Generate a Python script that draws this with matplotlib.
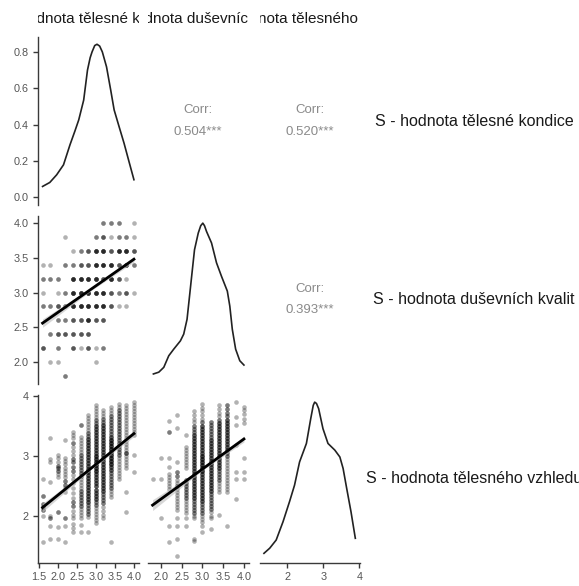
import matplotlib.pyplot as plt
from matplotlib.transforms import Bbox, TransformedBbox
import numpy as np

plt.rcParams['font.family'] = ['Liberation Sans', 'DejaVu Sans']

labels = ['S - hodnota tělesné kondice', 'S - hodnota duševních kvalit',
          'S - hodnota tělesného vzhledu']

# diagonal densities (x, density)
dens_kond_x = [1.6, 1.79, 1.97, 2.15, 2.32, 2.45, 2.55, 2.68, 2.78, 2.85, 2.90,
               2.97, 3.03, 3.10, 3.17, 3.28, 3.39, 3.48, 3.61, 3.74, 3.87, 4.0]
dens_kond_y = [0.060, 0.082, 0.124, 0.179, 0.289, 0.365, 0.426, 0.535, 0.700,
               0.768, 0.800, 0.835, 0.842, 0.832, 0.800, 0.718, 0.590, 0.481,
               0.389, 0.298, 0.197, 0.097]

dens_dus_x = [1.82, 1.95, 2.07, 2.19, 2.31, 2.47, 2.55, 2.63, 2.69, 2.75, 2.81,
              2.90, 2.96, 3.01, 3.05, 3.10, 3.22, 3.34, 3.46, 3.60, 3.66, 3.72,
              3.80, 3.90, 4.0]
dens_dus_y = [0.015, 0.029, 0.067, 0.158, 0.210, 0.275, 0.328, 0.444, 0.626,
              0.809, 0.991, 1.122, 1.180, 1.200, 1.180, 1.134, 1.044, 0.888,
              0.782, 0.666, 0.548, 0.366, 0.210, 0.119, 0.085]

dens_vz_x = [1.35, 1.51, 1.69, 1.88, 2.06, 2.20, 2.34, 2.53, 2.65, 2.72, 2.76,
             2.81, 2.87, 2.99, 3.13, 3.32, 3.46, 3.55, 3.65, 3.77, 3.89]
dens_vz_y = [0.008, 0.035, 0.078, 0.174, 0.279, 0.366, 0.488, 0.585, 0.715,
             0.785, 0.802, 0.795, 0.768, 0.663, 0.585, 0.550, 0.514, 0.454,
             0.349, 0.226, 0.087]

# kondice vs dusevni: grid points and number of respondents at each
kd_x = [3.2, 3.4, 3.6, 4.0,
        2.2, 3.0, 3.2, 3.4, 3.6, 3.8, 4.0,
        2.4, 2.6, 2.8, 3.0, 3.2, 3.4, 3.6, 3.8, 4.0,
        1.6, 1.8, 2.2, 2.4, 2.6, 2.8, 3.0, 3.2, 3.4, 3.6, 3.8, 4.0,
        1.6, 1.8, 2.0, 2.4, 2.6, 2.8, 3.0, 3.2, 3.4, 3.6, 3.8,
        1.6, 2.0, 2.2, 2.4, 2.6, 2.8, 3.0, 3.2, 3.4, 3.6, 3.8, 4.0,
        1.6, 1.8, 2.0, 2.2, 2.4, 2.6, 2.8, 3.0, 3.2, 3.4, 3.6, 3.8,
        2.0, 2.2, 2.4, 2.6, 2.8, 3.0, 3.2,
        1.8, 2.0, 2.2, 2.4, 2.6, 2.8,
        1.6, 2.0, 2.4, 2.6, 2.8, 3.0, 3.2,
        1.8, 2.0, 3.0,
        2.2]
kd_y = [4.0] * 4 + [3.8] * 7 + [3.6] * 9 + [3.4] * 12 + [3.2] * 11 + \
       [3.0] * 12 + [2.8] * 12 + [2.6] * 7 + [2.4] * 6 + [2.2] * 7 + \
       [2.0] * 3 + [1.8]
kd_n = [2, 2, 2, 1,
        1, 2, 3, 1, 2, 2, 1,
        1, 2, 3, 5, 5, 3, 5, 5, 3,
        1, 1, 2, 2, 3, 3, 5, 5, 5, 3, 5, 2,
        2, 2, 2, 5, 5, 5, 5, 3, 5, 3, 1,
        1, 1, 2, 5, 5, 5, 5, 5, 3, 2, 3, 1,
        2, 2, 3, 2, 5, 5, 5, 5, 5, 3, 1, 1,
        2, 2, 3, 3, 5, 3, 3,
        2, 3, 3, 3, 3, 3,
        3, 2, 3, 1, 3, 1, 2,
        1, 1, 1,
        2]

# kondice vs vzhled: per kondice column, vzhled values and respondent counts
kv_levels = [1.6, 1.8, 2.0, 2.2, 2.4, 2.6, 2.8, 3.0, 3.2, 3.4, 3.6, 3.8, 4.0]
kv_y = [
    [2.61, 2.33, 2.2, 2.15, 2.1, 2.0, 1.57],
    [3.29, 2.94, 2.89, 2.57, 2.0, 1.96, 1.84, 1.62],
    [3.02, 2.97, 2.9, 2.83, 2.79, 2.74, 2.69, 2.65, 2.07, 1.82, 1.62],
    [3.27, 2.97, 2.92, 2.86, 2.8, 2.75, 2.7, 2.64, 2.58, 2.52, 2.46, 2.4,
     1.96, 1.84, 1.56],
    [3.4, 3.34, 3.29, 3.22, 3.15, 3.08, 3.01, 2.95, 2.89, 2.82, 2.75, 2.68,
     2.61, 2.54, 2.46, 2.39, 2.3, 2.23, 2.16, 2.09, 2.02, 1.96, 1.87, 1.8, 1.73],
    [3.51, 3.32, 3.27, 3.22, 3.17, 3.12, 3.07, 3.02, 2.97, 2.92, 2.87, 2.82,
     2.77, 2.72, 2.67, 2.62, 2.57, 2.52, 2.47, 2.42, 2.37, 2.32, 2.27, 2.22,
     2.17, 2.12, 2.07, 2.02, 1.97, 1.85, 1.73],
    [3.68, 3.63, 3.58, 3.53, 3.48, 3.43, 3.38, 3.33, 3.28, 3.23, 3.18, 3.13,
     3.08, 3.03, 2.98, 2.93, 2.88, 2.83, 2.78, 2.73, 2.68, 2.63, 2.58, 2.53,
     2.48, 2.43, 2.38, 2.33, 2.28, 2.23, 2.18, 2.13, 2.08, 2.03, 1.98, 1.73],
    [3.84, 3.79, 3.74, 3.69, 3.64, 3.59, 3.54, 3.49, 3.44, 3.39, 3.34, 3.29,
     3.24, 3.19, 3.14, 3.09, 3.04, 2.99, 2.94, 2.89, 2.84, 2.79, 2.74, 2.69,
     2.64, 2.59, 2.54, 2.49, 2.44, 2.39, 2.34, 2.29, 2.24, 2.19, 2.14, 2.09,
     2.04, 1.99, 1.94, 1.89],
    [3.76, 3.71, 3.66, 3.61, 3.56, 3.51, 3.46, 3.41, 3.36, 3.31, 3.26, 3.21,
     3.16, 3.11, 3.06, 3.01, 2.96, 2.91, 2.86, 2.81, 2.76, 2.71, 2.66, 2.61,
     2.56, 2.51, 2.46, 2.41, 2.36, 2.31, 2.26, 2.21, 2.15, 2.08, 2.02, 1.96],
    [3.82, 3.77, 3.72, 3.67, 3.62, 3.57, 3.52, 3.47, 3.42, 3.37, 3.32, 3.27,
     3.22, 3.17, 3.12, 3.07, 3.02, 2.97, 2.92, 2.87, 2.82, 2.77, 2.72, 2.67,
     2.62, 2.57, 2.52, 2.47, 2.42, 2.37, 2.32, 1.57],
    [3.86, 3.81, 3.76, 3.71, 3.66, 3.61, 3.56, 3.51, 3.46, 3.41, 3.36, 3.31,
     3.26, 3.21, 3.16, 3.11, 3.06, 3.01, 2.96, 2.91, 2.86, 2.81, 2.76, 2.71,
     2.66, 2.62],
    [3.84, 3.79, 3.74, 3.69, 3.64, 3.59, 3.54, 3.49, 3.44, 3.39, 3.34, 3.29,
     3.24, 3.19, 3.14, 3.09, 3.04, 2.99, 2.94, 2.89, 2.84, 2.79, 2.4, 2.07],
    [3.9, 3.85, 3.8, 3.75, 3.7, 3.65, 3.6, 3.55, 3.5, 3.45, 3.4, 3.34, 3.01,
     2.73],
]
kv_n = [
    [1, 2, 2, 2, 2, 1, 1],
    [1, 1, 1, 1, 1, 2, 1, 1],
    [1, 1, 1, 2, 2, 2, 1, 1, 2, 1, 1],
    [1, 1, 1, 1, 1, 1, 1, 1, 2, 2, 1, 1, 2, 1, 1],
    [1, 1, 1, 2, 1, 1, 1, 2, 2, 2, 2, 1, 1, 1, 1, 1, 1, 2, 2, 1, 1, 1, 1, 1, 1],
    [2, 1, 1, 1, 1, 1, 1, 2, 2, 2, 2, 2, 2, 2, 2, 1, 1, 1, 1, 2, 2, 2, 2, 2,
     2, 1, 1, 1, 1, 1, 1],
    [1, 1, 1, 1, 1, 1, 2, 2, 3, 3, 3, 3, 3, 3, 3, 3, 3, 3, 3, 3, 3, 3, 3, 3,
     3, 3, 3, 3, 3, 3, 2, 2, 2, 2, 1, 1],
    [1, 1, 1, 1, 1, 2, 2, 3, 3, 3, 3, 3, 3, 3, 3, 3, 3, 4, 4, 4, 4, 4, 4, 3,
     3, 3, 3, 3, 3, 3, 3, 3, 2, 2, 1, 1, 1, 1, 1, 1],
    [1, 1, 1, 2, 2, 3, 3, 3, 3, 3, 3, 3, 3, 3, 3, 3, 3, 3, 3, 3, 3, 3, 3, 3,
     3, 3, 3, 3, 2, 2, 2, 2, 1, 1, 1, 1],
    [1, 1, 1, 2, 2, 2, 2, 2, 2, 2, 3, 4, 4, 4, 4, 4, 4, 4, 4, 4, 3, 3, 2, 2,
     2, 2, 2, 2, 1, 1, 1, 1],
    [1, 1, 2, 2, 2, 2, 2, 2, 2, 2, 2, 2, 2, 2, 2, 2, 2, 2, 1, 1, 1, 1, 1, 1,
     1, 1],
    [1, 1, 1, 1, 1, 1, 1, 1, 1, 1, 1, 1, 1, 1, 1, 1, 3, 1, 1, 1, 1, 1, 1, 1],
    [1, 1, 1, 1, 1, 1, 1, 1, 1, 1, 1, 1, 1, 1],
]

# dusevni vs vzhled: per dusevni column, vzhled values and respondent counts
dv_levels = [1.8, 2.0, 2.2, 2.4, 2.6, 2.8, 3.0, 3.2, 3.4, 3.6, 3.8, 4.0]
dv_y = [
    [2.61],
    [2.96, 2.61, 1.96],
    [3.58, 3.4, 2.96, 2.82, 2.7, 2.65, 2.6, 2.55, 2.5, 2.45, 1.84, 1.57],
    [3.68, 3.46, 2.9, 2.73, 2.66, 2.6, 2.55, 2.5, 2.45, 2.4, 2.35, 2.3, 2.25,
     2.2, 2.15, 2.1, 1.96, 1.84, 1.62, 1.34],
    [3.34, 3.15, 3.1, 3.05, 3.0, 2.95, 2.9, 2.85, 2.8, 2.6, 2.55, 2.5, 2.45,
     2.4, 2.35, 2.3, 2.25, 2.2, 2.15, 2.1, 2.05, 1.96, 1.84],
    [3.74, 3.68, 3.62, 3.56, 3.5, 3.45, 3.4, 3.35, 3.3, 3.25, 3.2, 3.15, 3.1,
     3.05, 3.0, 2.95, 2.9, 2.85, 2.8, 2.75, 2.7, 2.65, 2.6, 2.55, 2.5, 2.45,
     2.4, 2.35, 2.3, 2.25, 2.2, 2.15, 2.1, 2.05, 2.0, 1.96, 1.62, 1.58],
    [3.86, 3.8, 3.74, 3.68, 3.62, 3.56, 3.5, 3.45, 3.4, 3.35, 3.3, 3.25, 3.2,
     3.15, 3.1, 3.05, 3.0, 2.95, 2.9, 2.85, 2.8, 2.75, 2.7, 2.65, 2.6, 2.55,
     2.5, 2.45, 2.4, 2.35, 2.3, 2.25, 2.2, 2.15, 2.1, 2.05, 2.0, 1.95, 1.9,
     1.84, 1.73],
    [3.57, 3.52, 3.47, 3.42, 3.37, 3.32, 3.27, 3.22, 3.17, 3.12, 3.07, 3.02,
     2.97, 2.92, 2.87, 2.82, 2.77, 2.72, 2.67, 2.62, 2.57, 2.52, 2.47, 2.42,
     2.37, 2.32, 2.27, 2.22, 2.17, 2.12, 2.06, 2.0, 1.96, 1.79],
    [3.84, 3.78, 3.72, 3.66, 3.6, 3.55, 3.5, 3.45, 3.4, 3.35, 3.3, 3.25, 3.2,
     3.15, 3.1, 3.05, 3.0, 2.95, 2.9, 2.85, 2.8, 2.75, 2.7, 2.65, 2.6, 2.55,
     2.5, 2.45, 2.4, 2.01],
    [3.84, 3.78, 3.72, 3.66, 3.6, 3.55, 3.5, 3.45, 3.4, 3.35, 3.3, 3.25, 3.2,
     3.15, 3.1, 3.05, 3.0, 2.95, 2.9, 2.85, 2.8, 2.75, 2.7, 2.65, 2.6, 2.55,
     2.5, 2.45, 2.4, 1.84],
    [3.9, 3.65, 3.51, 3.18, 2.73, 2.61, 2.29],
    [3.82, 3.76, 3.7, 3.62, 3.55, 2.96, 2.73, 2.61],
]
dv_n = [
    [1],
    [1, 1, 1],
    [1, 2, 1, 1, 1, 1, 1, 1, 1, 1, 1, 1],
    [1, 1, 1, 2, 2, 1, 1, 2, 1, 1, 1, 1, 1, 1, 1, 1, 1, 1, 1, 1],
    [1, 1, 1, 1, 1, 1, 1, 1, 1, 2, 2, 2, 2, 2, 2, 2, 1, 1, 1, 1, 1, 1, 1],
    [1, 1, 1, 1, 2, 2, 2, 3, 3, 3, 3, 3, 3, 3, 3, 3, 3, 3, 3, 3, 3, 3, 3, 3,
     3, 3, 3, 3, 3, 2, 2, 2, 2, 2, 1, 1, 1, 1],
    [1, 1, 1, 1, 1, 2, 3, 3, 3, 3, 3, 3, 3, 3, 3, 3, 4, 4, 4, 4, 4, 4, 3, 3,
     3, 3, 3, 3, 3, 3, 3, 3, 2, 2, 2, 2, 1, 1, 1, 1, 1],
    [2, 2, 2, 2, 2, 2, 3, 3, 3, 3, 3, 3, 3, 3, 3, 3, 3, 3, 3, 3, 3, 3, 3, 3,
     2, 2, 2, 2, 2, 2, 1, 1, 1, 1],
    [1, 1, 1, 1, 2, 3, 3, 3, 3, 3, 3, 3, 3, 3, 3, 3, 3, 3, 3, 3, 3, 2, 2, 2,
     2, 1, 1, 1, 1, 1],
    [2, 2, 2, 2, 3, 3, 3, 3, 3, 3, 3, 3, 3, 3, 3, 2, 2, 1, 1, 1, 1, 1, 1, 1,
     1, 1, 1, 1, 1, 1],
    [1, 1, 1, 1, 1, 1, 1],
    [1, 1, 1, 1, 1, 1, 1, 1],
]

# linear fits: end points and half width of the confidence band
fit_kd = ([1.6, 4.0], [2.56, 3.48], [0.06, 0.02, 0.04])
fit_kv = ([1.6, 4.0], [2.14, 3.37], [0.07, 0.02, 0.05])
fit_dv = ([1.8, 4.0], [2.18, 3.28], [0.09, 0.02, 0.05])

corr_vals = {(0, 1): '0.504***', (0, 2): '0.520***', (1, 2): '0.393***'}

xlims = [(1.48, 4.12), (1.69, 4.11), (1.226, 4.02)]
ylims = [(-0.042, 0.882), (1.69, 4.11), (1.226, 4.02)]
left_ticks = [[0.0, 0.2, 0.4, 0.6, 0.8], [2.0, 2.5, 3.0, 3.5, 4.0], [2, 3, 4]]
left_fmt = ['{:.1f}', '{:.1f}', '{:.0f}']
bottom_ticks = [[1.5, 2.0, 2.5, 3.0, 3.5, 4.0], [2.0, 2.5, 3.0, 3.5, 4.0], [2, 3, 4]]
bottom_fmt = ['{:.1f}', '{:.1f}', '{:.0f}']

W, H = 579, 586
col_left = [38, 148, 259.5]
row_top = [37, 215.5, 394.5]
pw, ph = 100.5, 168

axis_col = '#3a3a3a'
tick_txt = '#555555'
pt_alpha = 0.3

fig = plt.figure(figsize=(W / 100, H / 100), dpi=100)
axes = {}
for r in range(3):
    for c in range(3):
        ax = fig.add_axes([col_left[c] / W, 1 - (row_top[r] + ph) / H, pw / W, ph / H])
        ax.set_xlim(xlims[c])
        ax.set_ylim(ylims[r])
        for s in ax.spines.values():
            s.set_visible(False)
        ax.set_xticks([])
        ax.set_yticks([])
        ax.patch.set_alpha(0)
        axes[(r, c)] = ax


def stripes(levels, ys, ns):
    xs = np.concatenate([np.repeat(lv, sum(n)) for lv, n in zip(levels, ns)])
    yy = np.concatenate([np.repeat(y, n) for y, n in zip(ys, ns)])
    return xs, yy


def scatter_fit(ax, xs, ys, fit):
    ax.scatter(xs, ys, s=11, color='black', alpha=pt_alpha, linewidths=0, zorder=2)
    fx, fy, half = fit
    xx = np.linspace(fx[0], fx[1], 50)
    yy = np.interp(xx, fx, fy)
    hw = np.interp(xx, [fx[0], (fx[0] + fx[1]) / 2 + 0.1, fx[1]], half)
    ax.fill_between(xx, yy - hw, yy + hw, color='#bdbdbd', alpha=0.6, lw=0, zorder=3)
    ax.plot(fx, fy, color='black', lw=2.0, zorder=4)


# diagonal densities
axes[(0, 0)].plot(dens_kond_x, dens_kond_y, color='#222222', lw=1.2)
for k, (dx, dy) in {1: (dens_dus_x, dens_dus_y), 2: (dens_vz_x, dens_vz_y)}.items():
    ax = axes[(k, k)]
    ax.plot(dx, dy, color='#222222', lw=1.2)
    m = max(dy)
    ax.set_ylim(-0.05 * m, 1.05 * m)

# lower panels
scatter_fit(axes[(1, 0)], np.repeat(kd_x, kd_n), np.repeat(kd_y, kd_n), fit_kd)
xs, ys = stripes(kv_levels, kv_y, kv_n)
scatter_fit(axes[(2, 0)], xs, ys, fit_kv)
xs, ys = stripes(dv_levels, dv_y, dv_n)
scatter_fit(axes[(2, 1)], xs, ys, fit_dv)

# upper panels: correlations
for (r, c), val in corr_vals.items():
    ax = axes[(r, c)]
    ax.text(0.5, 0.565, 'Corr:', transform=ax.transAxes, ha='center', va='center',
            fontsize=9.5, color='#8a8a8a')
    ax.text(0.5, 0.435, val, transform=ax.transAxes, ha='center', va='center',
            fontsize=9.5, color='#8a8a8a')

# outer axes
for r in range(3):
    ax = axes[(r, 0)]
    ax.spines['left'].set_visible(True)
    ax.spines['left'].set_color(axis_col)
    ax.spines['left'].set_linewidth(1.0)
    ax.set_yticks(left_ticks[r])
    ax.set_yticklabels([left_fmt[r].format(v) for v in left_ticks[r]])
for c in range(3):
    ax = axes[(2, c)]
    ax.spines['bottom'].set_visible(True)
    ax.spines['bottom'].set_color(axis_col)
    ax.spines['bottom'].set_linewidth(1.0)
    ax.set_xticks(bottom_ticks[c])
    ax.set_xticklabels([bottom_fmt[c].format(v) for v in bottom_ticks[c]])
for ax in axes.values():
    ax.tick_params(length=3.6, width=1.0, color=axis_col, labelcolor=tick_txt,
                   labelsize=7.8, pad=2.9)

# strip labels on top (clipped to panel width) and on the right
for c in range(3):
    ax = axes[(0, c)]
    t = ax.text(0.5 + 2 / pw, 1.0 + 18 / ph, labels[c], transform=ax.transAxes,
                ha='center', va='center', fontsize=11, color='#1a1a1a', clip_on=True)
    t.set_clip_box(TransformedBbox(Bbox([[0, 1], [1, 1.3]]), ax.transAxes))
for r in range(3):
    fig.text(474 / W, 1 - (row_top[r] + ph / 2) / H, labels[r], ha='center',
             va='center', fontsize=11.5, color='#1a1a1a')

fig.savefig('out.png', dpi=100)
